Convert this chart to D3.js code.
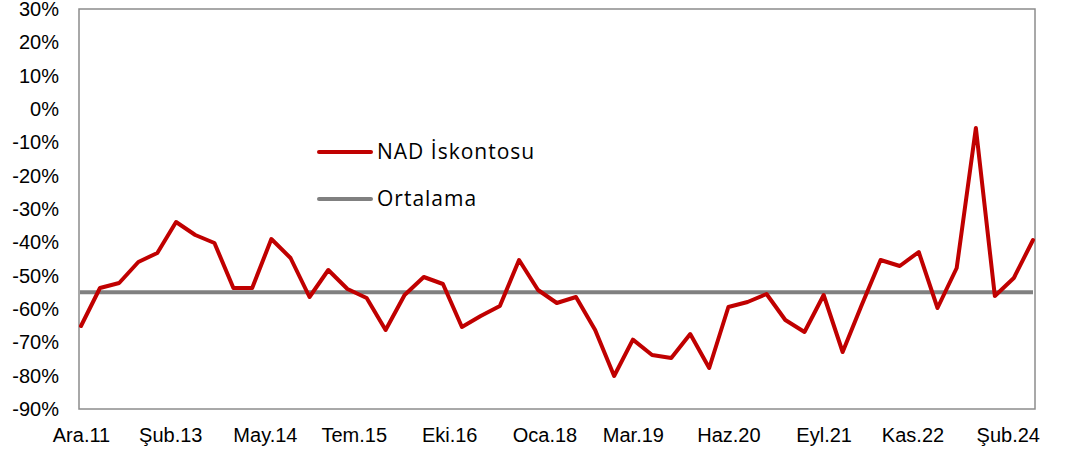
<!DOCTYPE html>
<html>
<head>
<meta charset="utf-8">
<script src="https://cdn.jsdelivr.net/npm/d3@7"></script>
<style>
  body { margin: 0; background: #fff; }
  svg { display: block; }
</style>
</head>
<body>
<div id="chart"></div>
<script>
// quarterly discount values (%), Dec 2011 .. Jun 2024
var startDate = new Date(2011, 11, 1)
var discount = [
  -65.1, -53.7, -52.2, -45.9, -43.2, -33.9, -37.8, -40.2, -53.7, -53.7,
  -39.0, -44.7, -56.4, -48.3, -54.0, -56.7, -66.3, -55.8, -50.4, -52.5,
  -65.4, -62.1, -59.1, -45.3, -54.3, -58.2, -56.4, -66.3, -80.1, -69.2,
  -73.8, -74.7, -67.5, -77.7, -59.4, -57.9, -55.5, -63.3, -66.9, -55.8,
  -72.9, -59.0, -45.3, -47.1, -42.9, -59.7, -47.7, -5.7, -56.1, -50.7,
  -39.3
]
var average = -55

// x axis labels and the month they sit on
var tickLabels = ["Ara.11", "Şub.13", "May.14", "Tem.15", "Eki.16", "Oca.18",
                  "Mar.19", "Haz.20", "Eyl.21", "Kas.22", "Şub.24"]
var tickMonths = ["2011-12", "2013-02", "2014-05", "2015-07", "2016-10", "2018-01",
                  "2019-03", "2020-06", "2021-09", "2022-11", "2024-02"]
var yTicks = [30, 20, 10, 0, -10, -20, -30, -40, -50, -60, -70, -80, -90]

var seriesNames = ["NAD İskontosu", "Ortalama"]
var seriesColors = ["#c00000", "#808080"]

var parseMonth = d3.timeParse("%Y-%m")
var dates = discount.map(function(d, i) { return d3.timeMonth.offset(startDate, i * 3) })
var tickDates = tickMonths.map(parseMonth)

var svg = d3.select("#chart").append("svg")
  .attr("width", 1067)
  .attr("height", 457)

var x = d3.scaleTime()
  .domain([dates[0], dates[dates.length - 1]])
  .range([81, 1033])

var y = d3.scaleLinear()
  .domain([-90, 30])
  .range([409, 9])

var plotLeft = 79, plotRight = 1035

// plot area border
svg.append("rect")
  .attr("x", plotLeft)
  .attr("y", y(30))
  .attr("width", plotRight - plotLeft)
  .attr("height", y(-90) - y(30))
  .style("fill", "none")
  .style("stroke", "#8c8c8c")
  .style("stroke-width", 1.5)

// y axis
var yAxis = d3.axisLeft(y)
  .tickValues(yTicks)
  .tickSize(0)
  .tickPadding(20)
  .tickFormat(function(d) { return d + "%" })

svg.append("g")
  .attr("transform", "translate(" + plotLeft + ",0)")
  .call(yAxis)
  .call(function(g) { g.select(".domain").remove() })
  .selectAll("text")
  .style("font-family", "'Liberation Sans', Arial, sans-serif")
  .style("font-size", "20px")
  .style("fill", "#000")

// x axis
var xAxis = d3.axisBottom(x)
  .tickValues(tickDates)
  .tickSize(0)
  .tickPadding(19)
  .tickFormat(function(d, i) { return tickLabels[i] })

svg.append("g")
  .attr("transform", "translate(0," + y(-90) + ")")
  .call(xAxis)
  .call(function(g) { g.select(".domain").remove() })
  .selectAll("text")
  .style("font-family", "'Liberation Sans', Arial, sans-serif")
  .style("font-size", "20px")
  .style("fill", "#000")

// average line
svg.append("line")
  .attr("x1", x(dates[0]) - 1)
  .attr("x2", x(dates[dates.length - 1]))
  .attr("y1", y(average))
  .attr("y2", y(average))
  .style("stroke", seriesColors[1])
  .style("stroke-width", 4)

// discount line
var line = d3.line()
  .x(function(d, i) { return x(dates[i]) })
  .y(function(d) { return y(d) })

svg.append("path")
  .datum(discount)
  .attr("d", line)
  .style("fill", "none")
  .style("stroke", seriesColors[0])
  .style("stroke-width", 4)
  .style("stroke-linejoin", "round")
  .style("stroke-linecap", "round")

// legend
for (var i = 0; i < seriesNames.length; i++) {
  var ly = 152 + i * 47
  svg.append("line")
    .attr("x1", 319)
    .attr("x2", 371)
    .attr("y1", ly)
    .attr("y2", ly)
    .style("stroke", seriesColors[i])
    .style("stroke-width", 4)
    .style("stroke-linecap", "round")

  svg.append("text")
    .attr("x", 377)
    .attr("y", ly)
    .attr("dy", "0.35em")
    .style("font-family", "'Open Sans', sans-serif")
    .style("font-size", "21px")
    .style("letter-spacing", "1px")
    .style("fill", "#000")
    .text(seriesNames[i])
}
</script>
</body>
</html>
